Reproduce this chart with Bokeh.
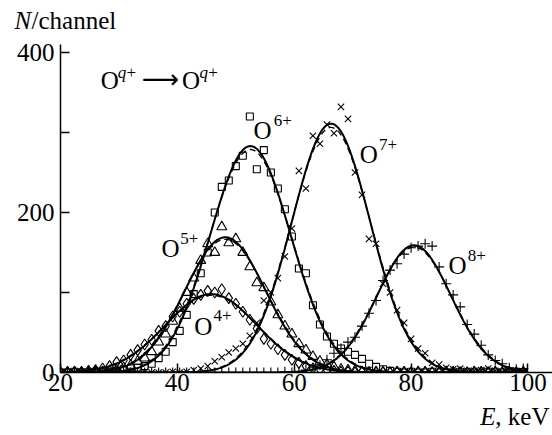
import numpy as np
from bokeh.plotting import figure
from bokeh.models import Range1d, FixedTicker, Label
from bokeh.layouts import column
from bokeh.embed import file_html
from bokeh.resources import INLINE

# ---- data ----
energy = [20.0, 21.2, 22.4, 23.6, 24.8, 26.0, 27.2, 28.4, 29.6, 30.8,
          32.0, 33.2, 34.4, 35.6, 36.8, 38.0, 39.2, 40.4, 41.6, 42.8,
          44.0, 45.2, 46.4, 47.6, 48.8, 50.0, 51.2, 52.4, 53.6, 54.8,
          56.0, 57.2, 58.4, 59.6, 60.8, 62.0, 63.2, 64.4, 65.6, 66.8,
          68.0, 69.2, 70.4, 71.6, 72.8, 74.0, 75.2, 76.4, 77.6, 78.8,
          80.0, 81.2, 82.4, 83.6, 84.8, 86.0, 87.2, 88.4, 89.6, 90.8,
          92.0, 93.2, 94.4, 95.6, 96.8, 98.0, 99.2]

o4 = [0, 1, 0, 1, 2, 3, 5, 8, 13, 15,
      22, 28, 35, 41, 52, 58, 70, 76, 86, 92,
      97, 102, 100, 104, 93, 86, 76, 66, 55, 42,
      36, 29, 22, 16, 12, 8, 5, 4, 3, 2,
      1, 1, 0, 1, 0, 0, 1, 0, 0, 1,
      0, 0, 1, 0, 0, 0, 1, 0, 0, 0,
      1, 0, 0, 0, 1, 0, 0]
o5 = [0, 0, 1, 0, 0, 1, 1, 2, 3, 6,
      9, 14, 18, 26, 38, 48, 64, 80, 100, 118,
      140, 161, 150, 182, 162, 167, 150, 132, 112, 106,
      88, 72, 58, 48, 36, 28, 20, 14, 10, 7,
      4, 3, 2, 1, 0, 1, 0, 0, 1, 0,
      0, 1, 0, 0, 0, 1, 0, 0, 0, 1,
      0, 0, 1, 0, 0, 0, 1]
o6 = [0, 0, 1, 0, 0, 1, 0, 1, 2, 4,
      5, 6, 8, 11, 18, 26, 38, 52, 72, 98,
      124, 150, 200, 232, 240, 258, 271, 320, 254, 278,
      250, 230, 204, 170, 130, 124, 84, 60, 45, 36,
      30, 26, 22, 17, 11, 7, 4, 2, 1, 0,
      1, 0, 0, 1, 0, 0, 0, 1, 0, 0,
      0, 1, 0, 0, 0, 1, 0]
o7 = [0, 0, 0, 1, 0, 0, 0, 0, 1, 0,
      0, 0, 1, 0, 0, 0, 1, 0, 1, 3,
      5, 8, 14, 19, 25, 30, 36, 46, 62, 90,
      100, 118, 145, 180, 252, 230, 296, 286, 310, 299,
      332, 317, 250, 222, 167, 161, 111, 100, 78, 62,
      42, 30, 24, 12, 10, 6, 4, 5, 2, 2,
      3, 5, 2, 1, 2, 1, 0]
o8 = [0, 0, 0, 0, 0, 0, 0, 0, 0, 0,
      0, 0, 0, 0, 0, 0, 0, 0, 0, 0,
      0, 0, 0, 0, 0, 0, 0, 0, 0, 0,
      0, 0, 1, 0, 1, 3, 6, 9, 16, 24,
      30, 38, 44, 58, 74, 90, 115, 128, 136, 148,
      156, 158, 161, 158, 132, 111, 97, 82, 60, 48,
      34, 22, 15, 11, 6, 4, 5]

# Gaussian fit parameters (amplitude, centre keV, sigma keV)
fit_amp = [98, 169, 283, 311, 159]
fit_centre = [45.8, 48.2, 52.5, 66.3, 80.5]
fit_sigma = [7.8, 6.9, 6.9, 6.7, 6.3]

x_ticks = [20, 40, 60, 80, 100]
y_ticks = [0, 200, 400]
y_minor = [100, 300]

SERIF = "Liberation Serif"
W = 552


def text_fig(h):
    f = figure(width=W, height=h, output_backend="svg", toolbar_location=None,
               x_range=Range1d(0, W), y_range=Range1d(0, h),
               x_axis_type=None, y_axis_type=None,
               min_border_left=0, min_border_right=0, min_border_top=0,
               min_border_bottom=0)
    f.frame_align = False
    f.outline_line_color = None
    f.xgrid.visible = False
    f.ygrid.visible = False
    f.background_fill_color = "white"
    f.border_fill_color = "white"
    return f


def lab(fig, x, y, text, size, style="normal", align="left", font=SERIF):
    fig.add_layout(Label(x=x, y=y, text=text, text_font=font, text_font_size=size,
                         text_font_style=style, text_color="black",
                         text_baseline="alphabetic", text_align=align))


# ---- main plot ----
p = figure(width=W, height=361, output_backend="svg", toolbar_location=None,
           x_range=Range1d(20, 104.2), y_range=Range1d(0, 410),
           min_border_left=60, min_border_right=0, min_border_top=4,
           min_border_bottom=29)
p.frame_align = False
p.outline_line_color = None
p.xgrid.visible = False
p.ygrid.visible = False
p.background_fill_color = "white"
p.border_fill_color = "white"

p.xaxis.ticker = FixedTicker(ticks=x_ticks)
p.yaxis.ticker = FixedTicker(ticks=y_ticks, minor_ticks=y_minor)
for ax in (p.xaxis, p.yaxis):
    ax.axis_line_color = "black"
    ax.axis_line_width = 1.5
    ax.major_tick_line_color = "black"
    ax.major_tick_line_width = 1.5
    ax.major_tick_in = 9
    ax.major_tick_out = 0
    ax.minor_tick_in = 9
    ax.minor_tick_out = 0
    ax.minor_tick_line_width = 1.5
    ax.major_label_text_font = SERIF
    ax.major_label_text_font_size = "25px"
    ax.major_label_text_color = "black"
p.xaxis.minor_tick_line_color = None
p.yaxis.minor_tick_line_color = "black"
p.yaxis.major_label_standoff = 6
p.xaxis.major_label_standoff = 1

# fit curves (solid) and a slightly lower dashed companion fit
xs = np.linspace(20, 100, 500)
for a, c, s in zip(fit_amp, fit_centre, fit_sigma):
    p.line(xs, 0.985 * a * np.exp(-(xs - c) ** 2 / (2 * (1.02 * s) ** 2)),
           line_color="black", line_width=1.3, line_dash="6 4")
    p.line(xs, a * np.exp(-(xs - c) ** 2 / (2 * s ** 2)), line_color="black", line_width=2)

# data markers
for vals, mk, sz in ((o4, "diamond", 11), (o5, "triangle", 10), (o6, "square", 7),
                     (o7, "x", 9), (o8, "cross", 10)):
    p.scatter(energy, vals, marker=mk, size=sz, fill_color=None,
              line_color="black", line_width=1.1)

# peak labels
for x0, y0, x1, y1, sup in ((53.05, 302, 56.5, 315, "6+"),
                            (71.2, 272, 74.5, 285, "7+"),
                            (37.3, 155, 40.5, 167, "5+"),
                            (42.9, 57, 46.2, 71, "4+"),
                            (86.4, 134, 89.7, 146, "8+")):
    lab(p, x0, y0, "O", "25px")
    lab(p, x1, y1, sup, "17px")

# reaction label
lab(p, 26.9, 365, "O", "25px")
lab(p, 29.8, 375, "q", "17px", "italic")
lab(p, 31.3, 375, "+", "17px")
lab(p, 33.9, 367, "\u27f6", "26px", font="DejaVu Sans")
lab(p, 40.8, 365, "O", "25px")
lab(p, 43.8, 375, "q", "17px", "italic")
lab(p, 45.3, 375, "+", "17px")

# axis titles in their own strips
top = text_fig(40)
lab(top, 14, 20, "N", "25px", "italic")
lab(top, 31, 20, "/channel", "25px")

bottom = text_fig(34)
lab(bottom, 549, 19, ", keV", "25px", align="right")
lab(bottom, 495, 19, "E", "25px", "italic", align="right")

layout = column(top, p, bottom, spacing=0)
open("out.html", "w").write(file_html(layout, INLINE))
